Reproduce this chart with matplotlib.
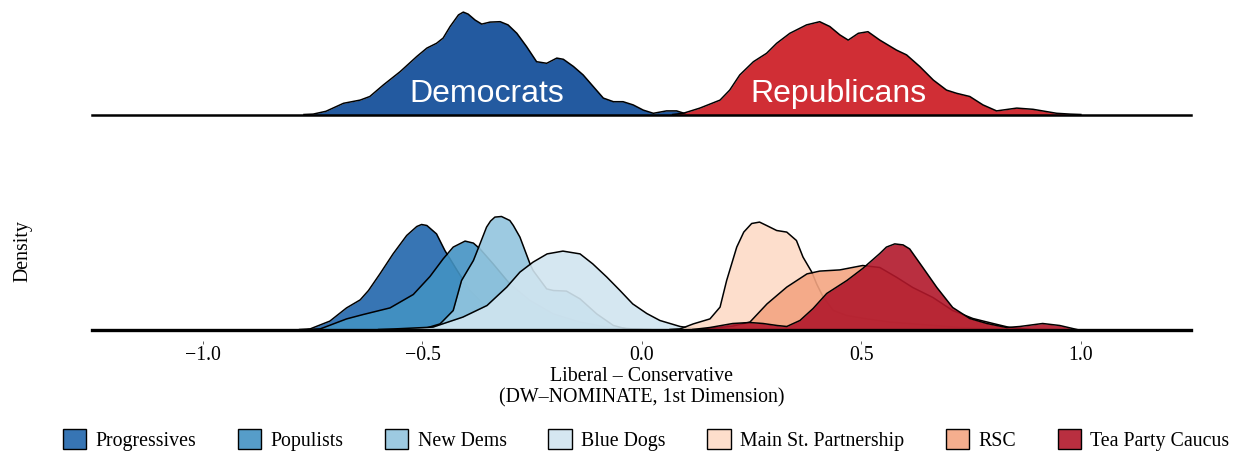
import matplotlib
matplotlib.use("Agg")
import matplotlib.pyplot as plt
from matplotlib.patches import Patch
from matplotlib.colors import to_rgba

plt.rcParams['font.family'] = ['Liberation Serif', 'DejaVu Serif']
plt.rcParams['font.size'] = 14.3

# ---------------- data ----------------
# Party densities (top panel)
dem_x = [-0.77, -0.749, -0.72, -0.680, -0.642, -0.620, -0.589, -0.551, -0.513, -0.490,
         -0.468, -0.453, -0.437, -0.418, -0.407, -0.396, -0.380, -0.365, -0.346, -0.323,
         -0.305, -0.285, -0.263, -0.240, -0.217, -0.194, -0.179, -0.156, -0.134, -0.111,
         -0.088, -0.065, -0.043, -0.020, 0.003, 0.026, 0.056, 0.079, 0.102, 0.12]
dem_d = [0.00, 0.01, 0.08, 0.28, 0.36, 0.45, 0.74, 1.07, 1.45, 1.66,
         1.78, 1.91, 2.20, 2.49, 2.56, 2.51, 2.36, 2.26, 2.31, 2.32,
         2.24, 2.03, 1.70, 1.32, 1.28, 1.41, 1.38, 1.20, 0.99, 0.70,
         0.41, 0.32, 0.32, 0.24, 0.11, 0.03, 0.09, 0.09, 0.01, 0.00]

rep_x = [0.07, 0.094, 0.132, 0.178, 0.200, 0.223, 0.254, 0.284, 0.307, 0.337,
         0.375, 0.405, 0.428, 0.451, 0.470, 0.493, 0.515, 0.542, 0.580, 0.603,
         0.633, 0.664, 0.694, 0.717, 0.747, 0.777, 0.808, 0.854, 0.891, 0.945, 0.975, 1.0]
rep_d = [0.00, 0.03, 0.16, 0.36, 0.61, 0.99, 1.32, 1.53, 1.78, 2.03,
         2.24, 2.32, 2.20, 1.99, 1.86, 2.03, 2.07, 1.86, 1.61, 1.49,
         1.20, 0.86, 0.61, 0.53, 0.45, 0.24, 0.09, 0.16, 0.13, 0.03, 0.01, 0.00]

party_names = ["Democrats", "Republicans"]
party_colors = ["#235AA0", "#D02E35"]
party_label_x = [-0.354, 0.448]

# Caucus densities (bottom panel)
prog_x = [-0.78, -0.756, -0.711, -0.673, -0.642, -0.623, -0.597, -0.567, -0.536, -0.513,
          -0.502, -0.490, -0.468, -0.449, -0.421, -0.392, -0.353, -0.294, -0.216, -0.141, -0.073]
prog_d = [0.00, 0.03, 0.42, 1.08, 1.48, 1.95, 2.78, 3.78, 4.70, 5.15,
          5.25, 5.20, 4.78, 3.95, 2.95, 1.95, 1.10, 0.55, 0.20, 0.05, 0.00]

popu_x = [-0.76, -0.733, -0.673, -0.635, -0.574, -0.521, -0.483, -0.453, -0.430, -0.403,
          -0.384, -0.369, -0.339, -0.301, -0.255, -0.202, -0.141, -0.080, -0.020, 0.02]
popu_d = [0.00, 0.03, 0.53, 0.75, 1.08, 1.75, 2.65, 3.53, 4.12, 4.42,
          4.32, 4.03, 3.28, 2.28, 1.45, 0.78, 0.37, 0.12, 0.03, 0.00]

newd_x = [-0.53, -0.498, -0.460, -0.430, -0.411, -0.384, -0.369, -0.354, -0.345, -0.335,
          -0.320, -0.301, -0.293, -0.278, -0.255, -0.248, -0.217, -0.202, -0.172, -0.141,
          -0.103, -0.065, -0.035, 0.0]
newd_d = [0.00, 0.03, 0.28, 0.95, 2.45, 3.45, 4.28, 5.12, 5.42, 5.62,
          5.65, 5.45, 5.20, 4.62, 3.28, 2.95, 2.03, 1.95, 1.92, 1.53,
          0.78, 0.20, 0.03, 0.00]

blue_x = [-0.60, -0.563, -0.476, -0.408, -0.353, -0.308, -0.278, -0.248, -0.216, -0.180,
          -0.141, -0.112, -0.080, -0.050, -0.021, 0.011, 0.041, 0.087, 0.125, 0.16]
blue_d = [0.00, 0.03, 0.12, 0.62, 1.20, 2.12, 2.87, 3.37, 3.78, 3.92,
          3.78, 3.28, 2.62, 1.95, 1.28, 0.80, 0.45, 0.15, 0.03, 0.00]

msp_x = [0.064, 0.087, 0.117, 0.155, 0.178, 0.193, 0.216, 0.232, 0.250, 0.268,
         0.284, 0.307, 0.330, 0.352, 0.367, 0.387, 0.398, 0.413, 0.436, 0.466,
         0.512, 0.565, 0.724, 0.815]
msp_d = [0.00, 0.03, 0.28, 0.53, 1.12, 2.45, 4.12, 4.87, 5.30, 5.37,
         5.20, 4.95, 4.87, 4.45, 3.62, 2.87, 2.28, 1.62, 0.95, 0.70,
         0.53, 0.37, 0.10, 0.00]

rsc_x = [0.132, 0.207, 0.246, 0.285, 0.330, 0.376, 0.405, 0.451, 0.503, 0.542,
         0.581, 0.617, 0.663, 0.708, 0.754, 0.800, 0.838, 0.884]
rsc_d = [0.00, 0.17, 0.37, 1.28, 2.12, 2.78, 2.92, 2.98, 3.20, 3.10,
         2.60, 2.10, 1.60, 0.95, 0.55, 0.30, 0.10, 0.00]

tea_x = [0.116, 0.155, 0.207, 0.246, 0.276, 0.308, 0.330, 0.360, 0.390, 0.421,
         0.467, 0.503, 0.542, 0.557, 0.576, 0.595, 0.610, 0.640, 0.672, 0.708,
         0.747, 0.786, 0.831, 0.861, 0.913, 0.952, 0.991]
tea_d = [0.00, 0.10, 0.30, 0.35, 0.30, 0.20, 0.15, 0.45, 1.05, 1.80,
         2.45, 3.05, 3.80, 4.12, 4.28, 4.23, 4.03, 3.10, 2.10, 1.10,
         0.55, 0.30, 0.10, 0.15, 0.30, 0.20, 0.00]

caucus_names = ["Progressives", "Populists", "New Dems", "Blue Dogs",
                "Main St. Partnership", "RSC", "Tea Party Caucus"]
caucus_colors = ["#2166AC", "#4393C3", "#92C5DE", "#D1E5F0",
                 "#FDDBC7", "#F4A582", "#B2182B"]
caucus_x = [prog_x, popu_x, newd_x, blue_x, msp_x, rsc_x, tea_x]
caucus_d = [prog_d, popu_d, newd_d, blue_d, msp_d, rsc_d, tea_d]

tick_vals = [-1.0, -0.5, 0.0, 0.5, 1.0]
tick_labels = ["\u22121.0", "\u22120.5", "0.0", "0.5", "1.0"]
xlim = (-1.253, 1.251)

# ---------------- figure ----------------
W, H = 1243, 458
fig = plt.figure(figsize=(W / 100, H / 100), dpi=100)
ax_top = fig.add_axes([92 / W, 1 - 114.5 / H, 1099 / W, 114.5 / H])
ax_bot = fig.add_axes([92 / W, 1 - 329.5 / H, 1099 / W, (329.5 - 173) / H])

# top panel
for i, (xs, ds, c) in enumerate(zip([dem_x, rep_x], [dem_d, rep_d], party_colors)):
    ax_top.fill_between(xs, ds, 0, color=c, lw=0, zorder=2 + i, clip_on=False)
    ax_top.plot(xs, ds, color="black", lw=1.1, zorder=2 + i, clip_on=False,
                solid_joinstyle="round")
for name, lx in zip(party_names, party_label_x):
    ax_top.text(lx, 0.32, name, color="white", fontsize=23, ha="center",
                va="baseline", family=["Liberation Sans", "DejaVu Sans"], zorder=10)
ax_top.axhline(0, color="black", lw=1.8, zorder=9, clip_on=False)
ax_top.set_xlim(*xlim)
ax_top.set_ylim(0, 114.5 / 40)
ax_top.axis("off")

# bottom panel
for i, (xs, ds, c) in enumerate(zip(caucus_x, caucus_d, caucus_colors)):
    ax_bot.fill_between(xs, ds, 0, color=c, alpha=0.9, lw=0, zorder=2 + i, clip_on=False)
    ax_bot.plot(xs, ds, color="black", lw=1.1, zorder=2 + i, clip_on=False,
                solid_joinstyle="round")
ax_bot.axhline(0, color="black", lw=2.4, zorder=20, clip_on=False)
ax_bot.set_xlim(*xlim)
ax_bot.set_ylim(0, (329.5 - 173) / 20)
for s in ["top", "right", "left"]:
    ax_bot.spines[s].set_visible(False)
ax_bot.spines["bottom"].set_position(("outward", 8.6))
ax_bot.spines["bottom"].set_visible(False)
ax_bot.set_yticks([])
ax_bot.set_xticks(tick_vals)
ax_bot.set_xticklabels(tick_labels)
ax_bot.tick_params(axis="x", length=2.2, width=0.6, color="#444444", pad=1.2,
                   labelsize=14.3)
ax_bot.set_xlabel("Liberal \u2013 Conservative\n(DW\u2013NOMINATE, 1st Dimension)",
                  fontsize=14.3, labelpad=1.2, linespacing=1.2)
ax_bot.set_ylabel("Density", fontsize=14.3)
ax_bot.yaxis.set_label_coords((32.5 - 92) / 1099, 0.5)

handles = [Patch(facecolor=to_rgba(c, 0.9), edgecolor="black", lw=1.0)
           for c in caucus_colors]
fig.legend(handles, caucus_names, loc="center", bbox_to_anchor=(646 / W, 1 - 440 / H),
           ncol=7, frameon=False, handlelength=1.18, handleheight=1.18,
           handletextpad=0.46, columnspacing=2.1, fontsize=14.3, borderpad=0)

fig.savefig("out.png", dpi=100)
